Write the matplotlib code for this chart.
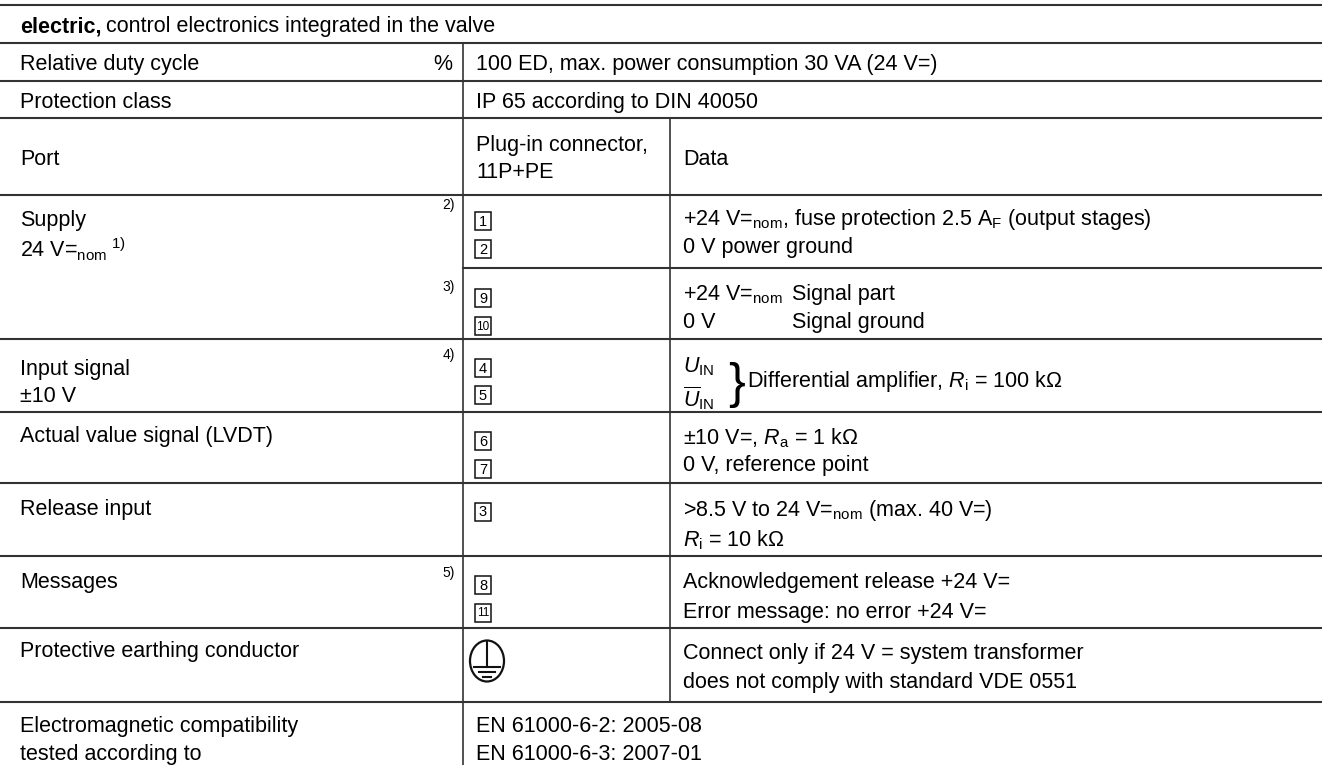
import matplotlib.pyplot as plt
from matplotlib.patches import Rectangle, Ellipse

plt.rcParams['font.family'] = 'Liberation Sans'
plt.rcParams['mathtext.fontset'] = 'custom'
plt.rcParams['mathtext.rm'] = 'Liberation Sans'
plt.rcParams['mathtext.it'] = 'Liberation Sans:italic'
plt.rcParams['mathtext.bf'] = 'Liberation Sans:bold'

W, H = 1322, 765
FS = 15.5
LC = '#333333'

# table content
header_bold = "electric,"
header_text = "control electronics integrated in the valve"

duty_label = "Relative duty cycle"
duty_unit = "%"
duty_value = "100 ED, max. power consumption 30 VA (24 V=)"
prot_label = "Protection class"
prot_value = "IP 65 according to DIN 40050"

port_label = "Port"
port_plug = ["Plug-in connector,", "11P+PE"]
port_data = "Data"

supply_label = ["Supply", r"24 V=$_\mathrm{nom}{}^{\mathrm{\ 1)}}$"]
supply_pins_a = ["1", "2"]
supply_data_a = [r"+24 V=$_\mathrm{nom}$, fuse protection 2.5 A$_\mathrm{F}$ (output stages)",
                 "0 V power ground"]
supply_pins_b = ["9", "10"]
supply_data_b = [r"+24 V=$_\mathrm{nom}$", "0 V"]
supply_data_b2 = ["Signal part", "Signal ground"]

input_label = ["Input signal", "±10 V"]
input_pins = ["4", "5"]
input_u = [r"$U_\mathrm{IN}$", r"$\overline{U}_\mathrm{IN}$"]
input_text = r"Differential amplifier, $R_\mathrm{i}$ = 100 kΩ"

actual_label = ["Actual value signal (LVDT)"]
actual_pins = ["6", "7"]
actual_data = [r"±10 V=, $R_\mathrm{a}$ = 1 kΩ", "0 V, reference point"]

release_label = ["Release input"]
release_pins = ["3"]
release_data = [r">8.5 V to 24 V=$_\mathrm{nom}$ (max. 40 V=)", r"$R_\mathrm{i}$ = 10 kΩ"]

msg_label = ["Messages"]
msg_pins = ["8", "11"]
msg_data = ["Acknowledgement release +24 V=", "Error message: no error +24 V="]

pe_label = ["Protective earthing conductor"]
pe_data = ["Connect only if 24 V = system transformer",
           "does not comply with standard VDE 0551"]

emc_label = ["Electromagnetic compatibility", "tested according to"]
emc_data = ["EN 61000-6-2: 2005-08", "EN 61000-6-3: 2007-01"]

footnotes = ["2)", "3)", "4)", "5)"]

# layout
row_lines = [5, 43, 81, 118, 195, 339, 412, 483, 556, 628, 702]
x1, x2 = 463, 670
tx0, tx1, tx2 = 20, 476, 683

fig = plt.figure(figsize=(W / 100, H / 100), dpi=100)
ax = fig.add_axes([0, 0, 1, 1])
ax.set_xlim(0, W)
ax.set_ylim(H, 0)
ax.axis('off')

for y in row_lines:
    ax.plot([0, W], [y, y], color=LC, lw=1.5, solid_capstyle='butt')
ax.plot([x1, W], [268, 268], color=LC, lw=1.5)
ax.plot([x1, x1], [43, H], color=LC, lw=1.2)
ax.plot([x2, x2], [118, 702], color=LC, lw=1.2)


def txt(x, y, s, **kw):
    kw.setdefault('fontsize', FS)
    return ax.text(x, y, s, va='center_baseline', ha=kw.pop('ha', 'left'), **kw)


def lines(x, y0, items, step=29):
    for i, s in enumerate(items):
        txt(x, y0 + i * step, s)


def pins(y0, items, step=28):
    for i, p in enumerate(items):
        yc = y0 + i * step
        ax.add_patch(Rectangle((tx1 - 1, yc - 9), 16, 18, fill=False, ec='#111111', lw=1.1))
        ax.text(tx1 + 7, yc + 0.5, p, fontsize=10.5 if len(p) == 1 else 8.5,
                ha='center', va='center')


# header
hb = txt(tx0, 24, header_bold, fontweight='bold')
fig.canvas.draw()
bb = hb.get_window_extent()
inv = ax.transData.inverted()
xe = inv.transform((bb.x1, bb.y0))[0]
txt(xe + 5, 24, header_text)

txt(tx0, 62, duty_label)
txt(452, 62, duty_unit, ha='right')
txt(tx1, 62, duty_value)
txt(tx0, 100, prot_label)
txt(tx1, 100, prot_value)

txt(tx0, 157, port_label)
lines(tx1, 143, port_plug, step=27)
txt(tx2, 157, port_data)

lines(tx0, 218, supply_label)
pins(221, supply_pins_a)
lines(tx2, 216, supply_data_a)
pins(298, supply_pins_b)
lines(tx2, 292, supply_data_b, step=28)
lines(792, 292, supply_data_b2, step=28)

lines(tx0, 367, input_label, step=27)
pins(368, input_pins, step=27)
lines(tx2, 364, input_u, step=31)
txt(728, 380, "}", fontsize=36)
txt(747, 378, input_text)

lines(tx0, 434, actual_label)
pins(441, actual_pins)
lines(tx2, 435, actual_data, step=28)

lines(tx0, 507, release_label)
pins(512, release_pins)
lines(tx2, 507, release_data, step=30)

lines(tx0, 580, msg_label)
pins(585, msg_pins)
lines(tx2, 580, msg_data, step=30)

lines(tx0, 649, pe_label)
lines(tx2, 651, pe_data, step=29)

# protective earth symbol
cx, cy = 487, 661
ax.add_patch(Ellipse((cx, cy), 34, 41, fill=False, ec='#111111', lw=1.6))
ax.plot([cx, cx], [cy - 20.5, cy + 6], color='#111111', lw=1.5)
for dy, hw in [(6, 13), (11, 8), (16, 4)]:
    ax.plot([cx - hw, cx + hw], [cy + dy, cy + dy], color='#111111', lw=1.5)

lines(tx0, 724, emc_label, step=28)
lines(tx1, 724, emc_data, step=28)

for fn, y in zip(footnotes, [205, 287, 355, 573]):
    ax.text(455, y, fn, fontsize=10, ha='right', va='center')

fig.savefig('out.png', dpi=100)
